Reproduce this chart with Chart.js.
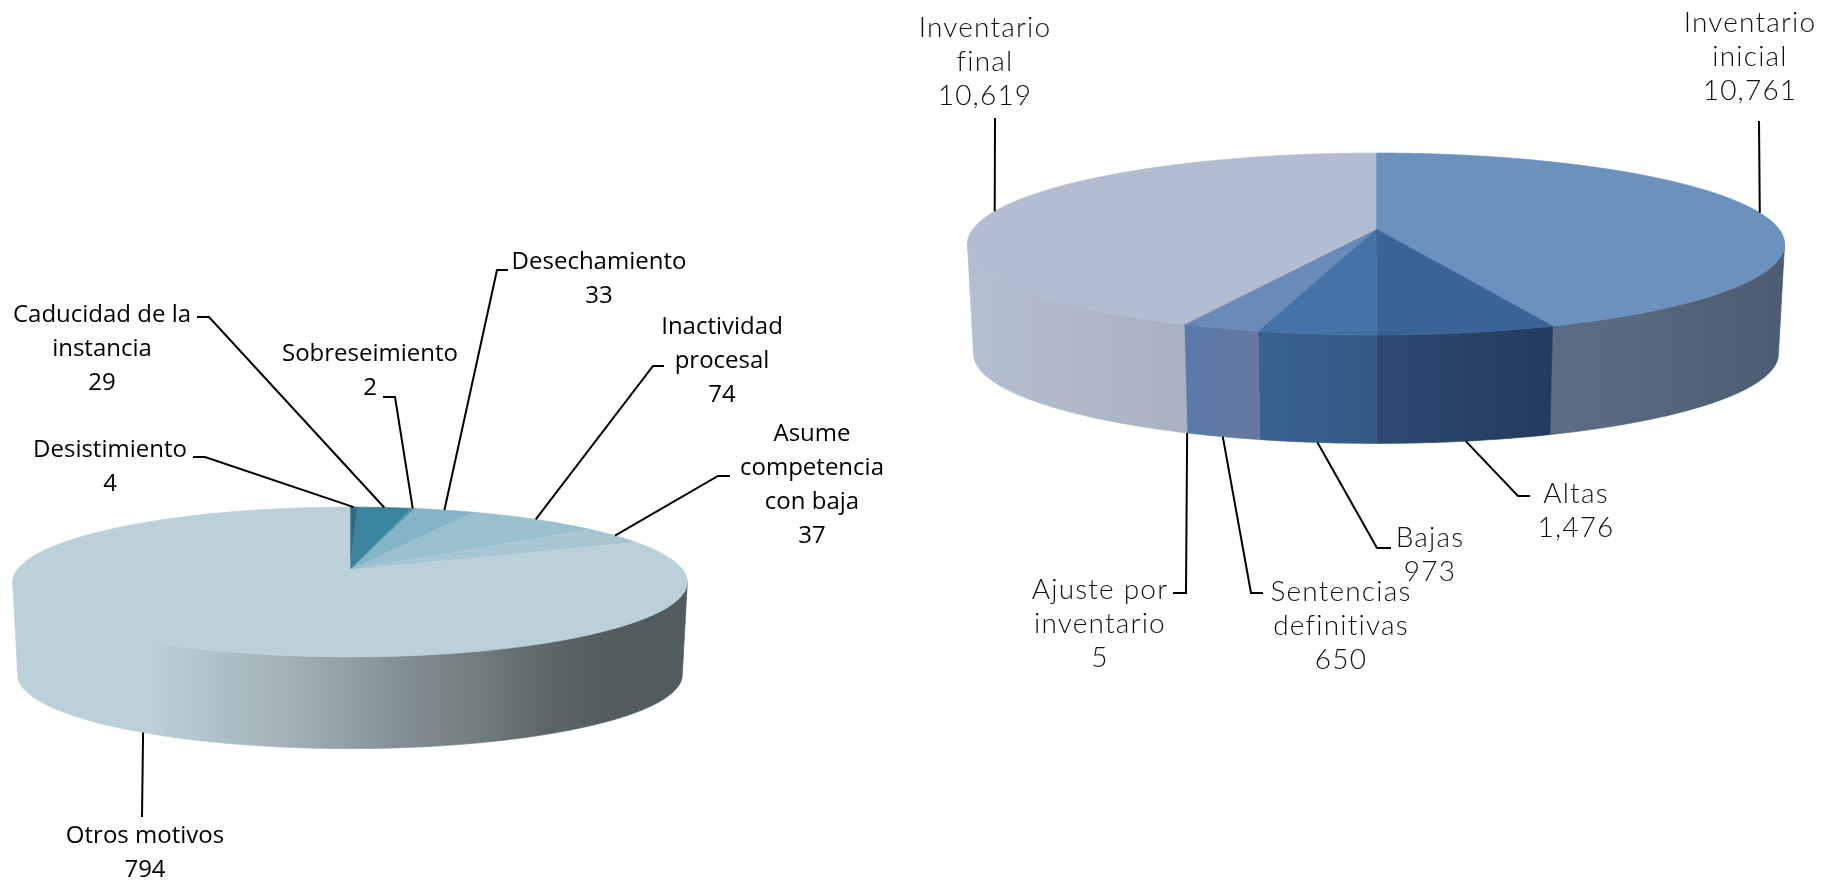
<!DOCTYPE html>
<html>
<head>
<meta charset="utf-8">
<title>Motivos e inventario</title>
<script src="https://cdn.jsdelivr.net/npm/chart.js@4"></script>
<style>
  html, body { margin: 0; padding: 0; background: #fff; overflow: hidden; }
  canvas { position: absolute; top: 0; }
</style>
</head>
<body>
<canvas id="motivos" width="900" height="882" style="left:0;width:900px;height:882px"></canvas>
<canvas id="inventario" width="942" height="882" style="left:900px;width:942px;height:882px"></canvas>
<script>
// grafica izquierda
const motivosLabels = ['Desistimiento', 'Caducidad de la instancia', 'Sobreseimiento', 'Desechamiento', 'Inactividad procesal', 'Asume competencia con baja', 'Otros motivos'];
const motivosValues = [4, 29, 2, 33, 74, 37, 794];
const motivosColors = ['#2d6b80', '#3a849e', '#4a8fa8', '#84b5c7', '#9ac1cd', '#aac5d2', '#bbd0d9'];
const motivosWalls = [['#2d6b80', '#2a5f70'], ['#3a849e', '#2f6a80'], ['#5fa0b6', '#4f8aa0'], ['#7fb4c7', '#6a9cae'], ['#97bfcb', '#7fa6b2'], ['#a9c4d1', '#90a9b5'],
  ['#bbd0d9', '#bbd0d9', '#bbd0d9', '#afc1c9', '#a3b3b8', '#919fa3', '#7f8b8e', '#707b7e', '#5b6567', '#525b5d', '#525b5d']];

// grafica derecha
const inventarioLabels = ['Inventario inicial', 'Altas', 'Bajas', 'Sentencias definitivas', 'Ajuste por inventario', 'Inventario final'];
const inventarioValues = [10761, 1476, 973, 650, 5, 10619];
const inventarioColors = ['#6b91bc', '#3a6496', '#4573a8', '#6a8ab8', '#7f9cc2', '#b3bdd1'];
const inventarioWalls = [['#5b6d86', '#4d5c72'], ['#2f4a72', '#223b5e'], ['#3a6290', '#335a85'], ['#5a7aaa', '#66789f'], ['#6a8ab0', '#6a8ab0'], ['#b5bfd2', '#a8b2c2']];

// texto de cada etiqueta y su guia
const motivosText = [
  { lines: ['Desistimiento', '4'], x: 110, y: 450, elbow: [205, 457], tick: -12, anchor: 'top' },
  { lines: ['Caducidad de la', 'instancia', '29'], x: 102, y: 315, elbow: [209, 317], tick: -12, anchor: 'top' },
  { lines: ['Sobreseimiento', '2'], x: 370, y: 354, elbow: [395, 397], tick: -12, anchor: 'top' },
  { lines: ['Desechamiento', '33'], x: 599, y: 262, elbow: [497, 270], tick: 11, anchor: 'top' },
  { lines: ['Inactividad', 'procesal', '74'], x: 722, y: 327, elbow: [653, 366], tick: 11, anchor: 'top' },
  { lines: ['Asume', 'competencia', 'con baja', '37'], x: 812, y: 434, elbow: [718, 476], tick: 12, anchor: 'top' },
  { lines: ['Otros motivos', '794'], x: 145, y: 836, elbow: [142, 817], tick: 0, anchor: 'wall' }
];
const inventarioText = [
  { lines: ['Inventario', 'inicial', '10,761'], x: 850, y: 23, elbow: [859, 121], tick: 0, anchor: 'top' },
  { lines: ['Altas', '1,476'], x: 676, y: 494, elbow: [618, 496], tick: 12, anchor: 'wall' },
  { lines: ['Bajas', '973'], x: 530, y: 538, elbow: [477, 548], tick: 14, anchor: 'wall' },
  { lines: ['Sentencias', 'definitivas', '650'], x: 441, y: 592, elbow: [351, 593], tick: 12, anchor: 'wall' },
  { lines: ['Ajuste por', 'inventario', '5'], x: 200, y: 590, elbow: [286, 593], tick: -13, anchor: 'wall' },
  { lines: ['Inventario', 'final', '10,619'], x: 85, y: 28, elbow: [95, 118], tick: 0, anchor: 'top' }
];

function rimPoint(g, angle, scale, drop) {
  const u = Math.sin(angle), v = -Math.cos(angle);
  const s = 1 / (1 - g.k * v);
  return [g.cx + g.R * scale * u * s, g.cy + drop + g.H * scale * v * s];
}

function tracePath(ctx, g, a0, a1, scale, drop, move) {
  const steps = Math.max(2, Math.ceil(Math.abs(a1 - a0) / 0.01));
  for (let i = 0; i <= steps; i++) {
    const p = rimPoint(g, a0 + (a1 - a0) * i / steps, scale, drop);
    if (i === 0 && move) ctx.moveTo(p[0], p[1]); else ctx.lineTo(p[0], p[1]);
  }
}

// pastel con perspectiva, usa los angulos que calcula Chart.js
const pie3d = {
  id: 'pie3d',
  beforeDatasetDraw(chart) {
    const g = chart.options.plugins.pie3d;
    const ctx = chart.ctx;
    const arcs = chart.getDatasetMeta(0).data;
    const off = Math.PI / 2; // chart.js cuenta desde las 3, aqui desde las 12
    const side = Math.asin(g.k); // punto mas ancho de la elipse
    ctx.save();
    ctx.lineWidth = 0.7;
    // paredes: solo la parte de enfrente
    arcs.forEach((arc, i) => {
      const a0 = Math.max(arc.startAngle + off, Math.PI / 2 + side);
      const a1 = Math.min(arc.endAngle + off, Math.PI * 1.5 - side);
      if (a1 <= a0) return;
      const pa = rimPoint(g, a0, 1, 0), pb = rimPoint(g, a1, 1, 0);
      const grad = ctx.createLinearGradient(Math.min(pa[0], pb[0]), 0, Math.max(pa[0], pb[0]), 0);
      const wall = g.walls[i];
      // la pared grande va de claro (izq) a oscuro (der)
      wall.forEach((c, n) => grad.addColorStop(n / (wall.length - 1), c));
      ctx.fillStyle = grad;
      ctx.strokeStyle = grad;
      ctx.beginPath();
      tracePath(ctx, g, a0, a1, 1, 0, true);
      tracePath(ctx, g, a1, a0, g.shrink, g.depth, false);
      ctx.closePath();
      ctx.fill();
      ctx.stroke();
    });
    // tapa
    arcs.forEach((arc, i) => {
      ctx.fillStyle = g.colors[i];
      ctx.strokeStyle = g.colors[i];
      ctx.beginPath();
      ctx.moveTo(g.cx, g.cy);
      tracePath(ctx, g, arc.startAngle + off, arc.endAngle + off, 1, 0, false);
      ctx.closePath();
      ctx.fill();
      ctx.stroke();
    });
    ctx.restore();
    return false;
  },
  afterDatasetsDraw(chart) {
    const g = chart.options.plugins.pie3d;
    const ctx = chart.ctx;
    const arcs = chart.getDatasetMeta(0).data;
    const off = Math.PI / 2;
    ctx.save();
    ctx.strokeStyle = '#000';
    ctx.lineWidth = 2;
    ctx.fillStyle = g.textColor;
    ctx.font = g.font;
    if (g.spacing) ctx.letterSpacing = g.spacing;
    ctx.textAlign = 'center';
    ctx.textBaseline = 'middle';
    g.text.forEach((t, i) => {
      const mid = (arcs[i].startAngle + arcs[i].endAngle) / 2 + off;
      const from = t.anchor === 'wall' ? rimPoint(g, mid, g.shrink, g.depth) : rimPoint(g, mid, 1, 0);
      ctx.beginPath();
      ctx.moveTo(from[0], from[1]);
      ctx.lineTo(t.elbow[0], t.elbow[1]);
      ctx.lineTo(t.elbow[0] + t.tick, t.elbow[1]);
      ctx.stroke();
      t.lines.forEach((line, n) => ctx.fillText(line, t.x, t.y + n * g.lineHeight));
    });
    ctx.restore();
  }
};

function makePie(id, labels, values, g) {
  new Chart(document.getElementById(id), {
    type: 'pie',
    data: { labels: labels, datasets: [{ data: values, backgroundColor: g.colors, borderWidth: 0 }] },
    options: {
      responsive: false,
      animation: false,
      rotation: 0,
      plugins: { legend: { display: false }, tooltip: { enabled: false }, pie3d: g }
    },
    plugins: [pie3d]
  });
}

makePie('motivos', motivosLabels, motivosValues, {
  cx: 350, cy: 570, R: 333, H: 73, k: 0.16, depth: 93, shrink: 0.985,
  colors: motivosColors, walls: motivosWalls, text: motivosText,
  font: '24px "Open Sans"', textColor: '#000', lineHeight: 34
});
makePie('inventario', inventarioLabels, inventarioValues, {
  cx: 476, cy: 229, R: 403, H: 88.5, k: 0.165, depth: 110, shrink: 0.985,
  colors: inventarioColors, walls: inventarioWalls, text: inventarioText,
  font: '300 28px "Lato"', spacing: '1.2px', textColor: '#111', lineHeight: 34
});
</script>
</body>
</html>
